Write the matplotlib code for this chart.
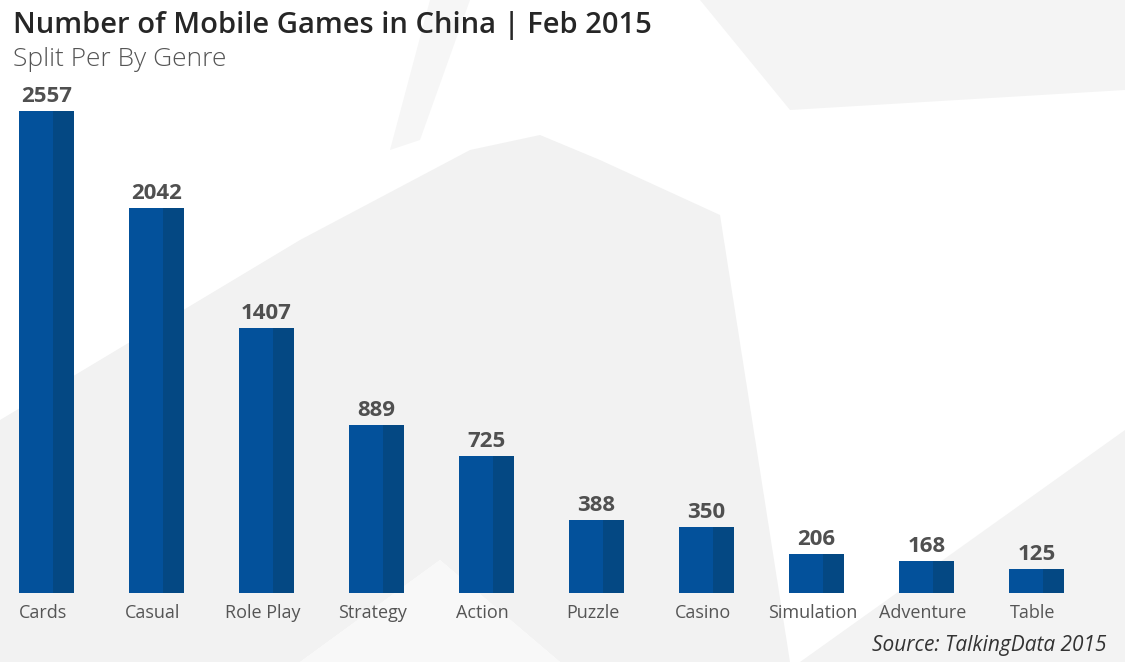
import matplotlib
matplotlib.use("Agg")
import matplotlib.pyplot as plt
import matplotlib.transforms as mtransforms
from matplotlib.patches import Polygon
import numpy as np

genres = ["Cards", "Casual", "Role Play", "Strategy", "Action",
          "Puzzle", "Casino", "Simulation", "Adventure", "Table"]
games = [2557, 2042, 1407, 889, 725, 388, 350, 206, 168, 125]

TITLE = "Number of Mobile Games in China | Feb 2015"
SUBTITLE = "Split Per By Genre"
SOURCE = "Source: TalkingData 2015"

LIGHT_BLUE = "#03519b"
DARK_BLUE = "#044883"

plt.rcParams["font.family"] = ["Open Sans", "DejaVu Sans"]

W, H = 1125, 662
fig = plt.figure(figsize=(W / 100, H / 100), dpi=100)
fig.patch.set_facecolor("white")

# faint background shapes, drawn in pixel coords on a back axes
bg = fig.add_axes([0, 0, 1, 1], zorder=-1)
bg.set_xlim(0, W)
bg.set_ylim(H, 0)
bg.axis("off")
shapes = [
    ([(0, 662), (0, 420), (300, 240), (470, 150), (540, 135), (600, 160),
      (720, 215), (790, 662), (560, 662), (440, 560), (300, 662)], "#f2f2f2"),
    ([(300, 662), (440, 560), (560, 662)], "#f8f8f8"),
    ([(620, 0), (700, 0), (790, 110), (1125, 90), (1125, 0)], "#f4f4f4"),
    ([(800, 662), (1125, 430), (1125, 662)], "#f3f3f3"),
    ([(430, 0), (470, 0), (420, 140), (390, 150)], "#f6f6f6"),
]
for pts, col in shapes:
    bg.add_patch(Polygon(pts, closed=True, facecolor=col, edgecolor="none"))

# axes: bar baseline at y=593px, tallest bar top at y=111px
ax = fig.add_axes([0, (H - 593) / H, 1, (593 - 111) / H], zorder=1)
ax.set_facecolor("none")
x = np.arange(len(genres))
ax.set_xlim(-46.5 / 110, (W - 46.5) / 110)
ax.set_ylim(0, max(games))

bw = 0.5
split = 0.625
ax.bar(x - bw / 2, games, width=bw * split, align="edge", color=LIGHT_BLUE, zorder=2)
ax.bar(x - bw / 2 + bw * split, games, width=bw * (1 - split), align="edge",
       color=DARK_BLUE, zorder=2)

for xi, v in zip(x, games):
    ax.annotate(str(v), (xi, v), xytext=(0, 3), textcoords="offset points",
                ha="center", va="bottom", fontsize=16, fontweight="bold",
                color="#505050", annotation_clip=False)

ax.set_xticks(x)
ax.set_xticklabels(genres, fontsize=13, color="#555555")
ax.tick_params(axis="x", length=0, pad=8)
# category labels sit a touch left of the bar centres
shift = mtransforms.ScaledTranslation(-4 / 100, 0, fig.dpi_scale_trans)
for lab in ax.get_xticklabels():
    lab.set_transform(lab.get_transform() + shift)
ax.set_yticks([])
for s in ax.spines.values():
    s.set_visible(False)

fig.text(13 / W, 1 - 25 / H, TITLE, fontsize=21, fontweight="semibold",
         color="#262626", ha="left", va="center")
fig.text(13 / W, 1 - 59 / H, SUBTITLE, fontsize=19, fontweight="light",
         color="#555555", ha="left", va="center")
fig.text(1107 / W, 1 - 646 / H, SOURCE, fontsize=15, style="italic",
         color="#333333", ha="right", va="center")

fig.savefig("out.png", dpi=100, facecolor="white")
